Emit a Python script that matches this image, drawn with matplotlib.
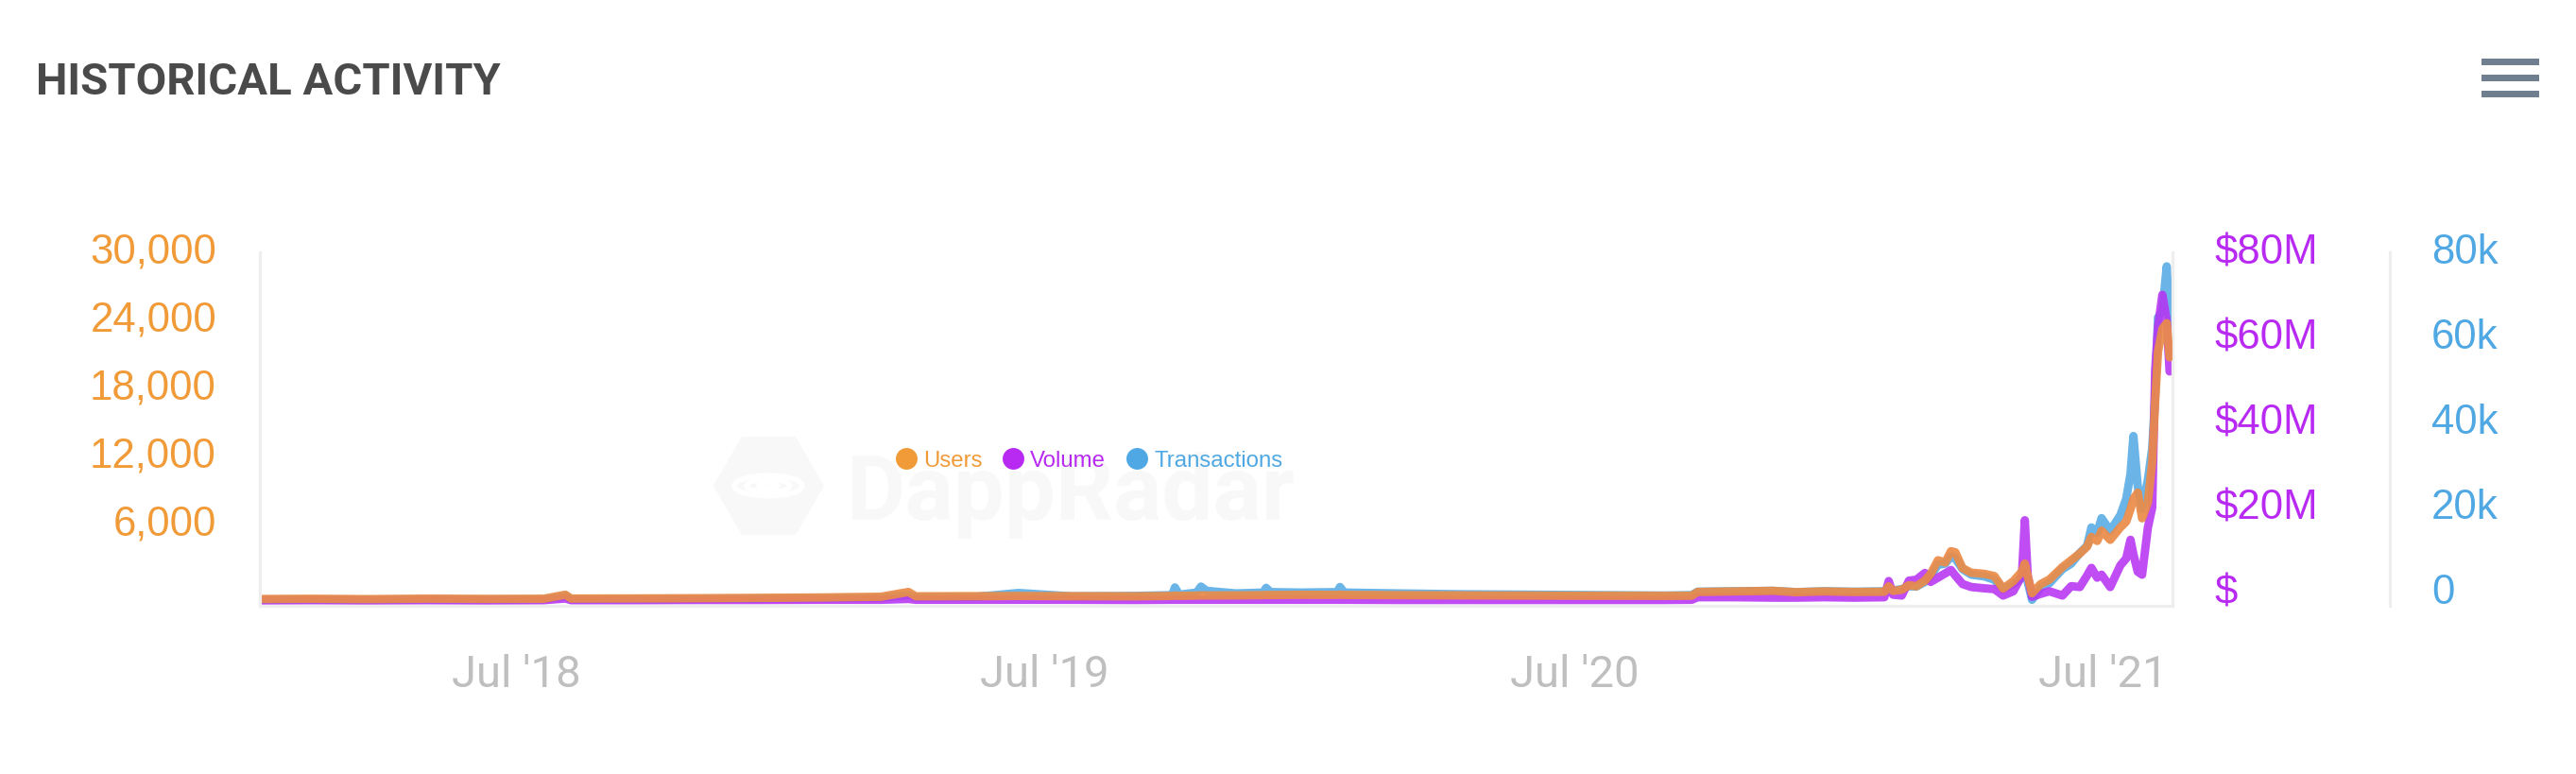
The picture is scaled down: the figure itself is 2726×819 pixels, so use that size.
import numpy as np
import pandas as pd
import matplotlib
matplotlib.use('Agg')
import matplotlib.pyplot as plt
from matplotlib import transforms
from matplotlib.lines import Line2D
from matplotlib.patches import Rectangle, Polygon, Circle

W, H, DPI = 2726, 820, 100

# daily activity (users, volume in $M, transactions in k)
dates = ['2018-01-05', '2018-02-10', '2018-03-20', '2018-05-01', '2018-06-10', '2018-07-20',
         '2018-08-04', '2018-08-08', '2018-09-20', '2018-11-01', '2018-12-15', '2019-01-30',
         '2019-03-10', '2019-03-29', '2019-04-03', '2019-05-15', '2019-06-13', '2019-07-20',
         '2019-09-01', '2019-09-27', '2019-09-29', '2019-10-02', '2019-10-14', '2019-10-17',
         '2019-10-21', '2019-11-10', '2019-11-29', '2019-12-01', '2019-12-04', '2019-12-25',
         '2020-01-19', '2020-01-21', '2020-01-24', '2020-03-01', '2020-04-15', '2020-06-01',
         '2020-07-15', '2020-09-01', '2020-09-20', '2020-09-24', '2020-10-20', '2020-11-15',
         '2020-12-01', '2020-12-20', '2021-01-10', '2021-01-31', '2021-02-03', '2021-02-06',
         '2021-02-12', '2021-02-17', '2021-02-22', '2021-02-28', '2021-03-04', '2021-03-09',
         '2021-03-14', '2021-03-18', '2021-03-21', '2021-03-26', '2021-04-01', '2021-04-10',
         '2021-04-17', '2021-04-23', '2021-04-30', '2021-05-06', '2021-05-08', '2021-05-10',
         '2021-05-13', '2021-05-19', '2021-05-25', '2021-06-03', '2021-06-09', '2021-06-15',
         '2021-06-20', '2021-06-23', '2021-06-27', '2021-06-30', '2021-07-06', '2021-07-13',
         '2021-07-17', '2021-07-20', '2021-07-22', '2021-07-25', '2021-07-28', '2021-08-01',
         '2021-08-04', '2021-08-06', '2021-08-08', '2021-08-11', '2021-08-14', '2021-08-16']

users = [180, 200, 170, 210, 190, 200,
         560, 220, 230, 250, 280, 320,
         380, 800, 420, 430, 450, 430,
         420, 450, 480, 460, 480, 500,
         490, 500, 520, 540, 530, 550,
         540, 560, 540, 520, 500, 480,
         470, 460, 470, 800, 850, 900,
         780, 850, 800, 820, 1300, 900,
         1000, 1400, 1300, 1800, 2400, 3600,
         3400, 4400, 4300, 2900, 2500, 2400,
         2200, 1100, 1750, 2600, 3300, 2200,
         700, 1500, 1900, 3000, 3600, 4200,
         4800, 5650, 5300, 6200, 5400, 6500,
         7000, 8100, 9000, 9560, 7300, 8700,
         12300, 17500, 22000, 24000, 24500, 21500]

volume = [0.15, 0.2, 0.15, 0.2, 0.15, 0.2,
          0.6, 0.2, 0.2, 0.25, 0.25, 0.3,
          0.3, 0.5, 0.3, 0.3, 0.3, 0.3,
          0.25, 0.3, 0.3, 0.3, 0.3, 0.3,
          0.3, 0.3, 0.3, 0.3, 0.3, 0.3,
          0.3, 0.3, 0.3, 0.25, 0.25, 0.25,
          0.25, 0.25, 0.3, 0.9, 0.9, 0.8,
          0.8, 0.9, 0.8, 0.9, 4.7, 1.5,
          1.3, 4.8, 5.0, 6.6, 4.5, 5.5,
          6.5, 7.3, 6.0, 4.0, 3.3, 3.0,
          2.8, 1.3, 2.3, 6.0, 19.0, 6.0,
          1.0, 1.7, 2.3, 1.3, 3.5, 3.3,
          6.0, 7.8, 5.5, 6.2, 3.3, 8.4,
          10.0, 14.4, 11.0, 6.9, 6.2, 17.3,
          22.0, 54.0, 64.5, 72.0, 66.0, 54.0]

transactions = [0.3, 0.35, 0.3, 0.4, 0.35, 0.4,
                1.2, 0.4, 0.45, 0.5, 0.6, 0.7,
                0.8, 1.4, 0.9, 1.0, 1.9, 1.1,
                1.2, 1.4, 3.2, 1.5, 2.0, 3.4,
                2.4, 1.8, 2.0, 3.1, 2.1, 2.0,
                2.1, 3.3, 2.0, 1.8, 1.6, 1.5,
                1.4, 1.3, 1.4, 2.2, 2.3, 2.4,
                2.1, 2.3, 2.2, 2.3, 3.0, 2.5,
                2.8, 3.5, 3.4, 4.5, 6.0, 8.5,
                8.8, 10.5, 10.0, 7.5, 6.2, 5.8,
                5.0, 2.8, 4.0, 5.5, 6.5, 4.5,
                0.3, 3.2, 4.2, 7.5, 8.8, 11.3,
                13.0, 17.3, 16.0, 19.5, 16.5, 20.2,
                24.0, 29.9, 38.8, 27.0, 21.7, 28.5,
                36.0, 48.0, 66.7, 68.0, 78.7, 65.0]

series_names = ['Users', 'Volume', 'Transactions']
user_ticks = [6000, 12000, 18000, 24000, 30000]
user_labels = ['6,000', '12,000', '18,000', '24,000', '30,000']
volume_ticks = [0, 20, 40, 60, 80]
volume_labels = ['$', '$20M', '$40M', '$60M', '$80M']
tx_ticks = [0, 20, 40, 60, 80]
tx_labels = ['0', '20k', '40k', '60k', '80k']
x_ticks = ['2018-07-01', '2019-07-01', '2020-07-01', '2021-07-01']
x_labels = ["Jul '18", "Jul '19", "Jul '20", "Jul '21"]

orange, purple, blue = '#F19A38', '#B82AF2', '#4FA8E3'
grid_grey = '#EEEEEE'

dt = pd.to_datetime(dates)

fig = plt.figure(figsize=(W / DPI, H / DPI), dpi=DPI)
fig.patch.set_facecolor('white')

# plot box in pixels: x 275..2299, y 268..642 (from top)
ax = fig.add_axes([275 / W, 1 - 642 / H, (2299 - 275) / W, (642 - 268) / H])
ax2 = ax.twinx()
ax3 = ax.twinx()

zero_px, top_px = 637, 277


def lims(vmax):
    per = vmax / (zero_px - top_px)
    return (-(642 - zero_px) * per, (zero_px - 268) * per)


ax.set_ylim(*lims(30000))
ax2.set_ylim(*lims(80))
ax3.set_ylim(*lims(80))
ax.set_xlim(pd.Timestamp('2018-01-05'), pd.Timestamp('2021-08-18'))

lw = 6.4
ax3.plot(dt, transactions, color='#5AACE5', lw=lw, alpha=0.9,
         solid_joinstyle='round', solid_capstyle='round')
ax2.plot(dt, volume, color='#B634F2', lw=lw, alpha=0.88,
         solid_joinstyle='round', solid_capstyle='round')
ax.plot(dt, users, color='#EA8B48', lw=lw, alpha=0.92,
        solid_joinstyle='round', solid_capstyle='round')

ax3.set_zorder(1)
ax2.set_zorder(2)
ax.set_zorder(3)
for a in (ax, ax2, ax3):
    a.patch.set_visible(False)
    a.set_yticks([])
    for s in a.spines.values():
        s.set_visible(False)

ax.spines['left'].set_visible(True)
ax.spines['bottom'].set_visible(True)
ax2.spines['right'].set_visible(True)
ax3.spines['right'].set_visible(True)
ax3.spines['right'].set_position(('axes', (2529 - 275) / (2299 - 275)))
for s in (ax.spines['left'], ax.spines['bottom'], ax2.spines['right'], ax3.spines['right']):
    s.set_color(grid_grey)
    s.set_linewidth(2.3)

ax.set_xticks(pd.to_datetime(x_ticks))
ax.set_xticklabels(x_labels, fontsize=34, family='Roboto', color='#BFBFBF')
ax.tick_params(axis='x', length=0, pad=36)
for a in (ax2, ax3):
    a.tick_params(axis='x', which='both', bottom=False, top=False,
                  labelbottom=False, labeltop=False)
ax.tick_params(axis='x', labelbottom=True)


def ylabels(a, ticks, labels, xa, dx, ha, color):
    tr = transforms.blended_transform_factory(a.transAxes, a.transData) + \
        transforms.ScaledTranslation(dx / DPI, 9.5 / DPI, fig.dpi_scale_trans)
    for v, s in zip(ticks, labels):
        a.text(xa, v, s, transform=tr, ha=ha, va='center', color=color,
               fontsize=31.5, family='Liberation Sans')


ylabels(ax, user_ticks, user_labels, 0, -46, 'right', orange)
ylabels(ax2, volume_ticks, volume_labels, 1, 44, 'left', purple)
ylabels(ax3, tx_ticks, tx_labels, (2529 - 275) / (2299 - 275), 44, 'left', blue)

# title and menu icon
fig.text(38 / W, 1 - 87 / H, 'HISTORICAL ACTIVITY', fontsize=34, fontweight='bold',
         family='Roboto', color='#4A4A4A', va='center', ha='left')
for yc in (66, 83, 100):
    fig.add_artist(Rectangle((2626 / W, 1 - (yc + 3.5) / H), 61 / W, 7 / H,
                             transform=fig.transFigure, color='#707F90', lw=0))

# faint watermark
wm = '#F8F8F8'
hexpts = [(755, 515), (785, 463), (842, 463), (872, 515), (842, 567), (785, 567)]
fig.add_artist(Polygon([(x / W, 1 - y / H) for x, y in hexpts], closed=True,
                       transform=fig.transFigure, color=wm, lw=0, zorder=0))
for r in (36, 23, 10):
    fig.add_artist(Circle((813 / W, 1 - 515 / H), r / W, transform=fig.transFigure,
                          fill=False, ec='white', lw=4, zorder=0))
fig.text(896 / W, 1 - 550 / H, 'DappRadar', fontsize=69, fontweight='bold', family='Roboto',
         color=wm, va='baseline', ha='left', zorder=0)

# legend
handles = [Line2D([], [], ls='', marker='o', ms=16.5, markerfacecolor=c, markeredgewidth=0)
           for c in (orange, purple, blue)]
fig.legend(handles, series_names, loc='center', bbox_to_anchor=(1152 / W, 1 - 488 / H),
           ncol=3, frameon=False, prop={'family': 'Liberation Sans', 'size': 17.3},
           handlelength=1.0, handletextpad=0.25, columnspacing=0.875,
           labelcolor=[orange, purple, blue])

fig.savefig('out.png', dpi=DPI, facecolor='white')
